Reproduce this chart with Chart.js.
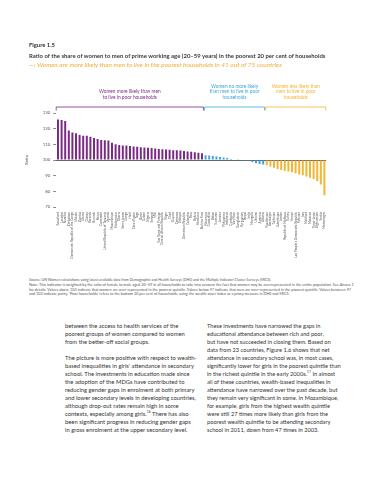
<!DOCTYPE html>
<html><head><meta charset="utf-8">
<script src="https://cdn.jsdelivr.net/npm/chart.js@4.4.1/dist/chart.umd.min.js"></script>
<style>
html,body{margin:0;padding:0;background:#fff;}
#page{position:relative;width:372px;height:480px;overflow:hidden;font-family:Lato,'Open Sans',sans-serif;color:#333;}
canvas{position:absolute;left:0;top:0;}
.t{position:absolute;white-space:nowrap;}
sup{font-size:60%;line-height:0;vertical-align:super;}
</style></head><body><div id="page">
<canvas id="c" width="372" height="268"></canvas>
<div class="t" id="fig" style="left:29px;top:41.7px;line-height:6px;font-weight:700;color:#333">Figure 1.5</div>
<div class="t" id="title" style="left:29px;top:53px;line-height:6px;font-weight:700;color:#3a3a3a">Ratio of the share of women to men of prime working age (20–59 years) in the poorest 20 per cent of households</div>
<div class="t" id="sub" style="left:29px;top:61.7px;line-height:6px;font-style:italic;color:#F0AE35">—› Women are more likely than men to live in the poorest households in 41 out of 75 countries</div>
<div class="t" id="src" style="left:29px;top:277.7px;line-height:4px;color:#555">Source: UN Women calculations using latest available data from Demographic and Health Surveys (DHS) and the Multiple Indicator Cluster Surveys (MICS).</div>
<div class="t" id="note" style="left:29px;top:283.1px;line-height:4.5px;color:#555">Note: This indicator is weighted by the ratio of female to male aged 20–59 in all households to take into account the fact that women may be overrepresented in the entire population. See Annex 1<br>for details. Values above 103 indicate that women are over-represented in the poorest quintile. Values below 97 indicate that men are over-represented in the poorest quintile. Values between 97<br>and 103 indicate parity. 'Poor households' refers to the bottom 20 per cent of households, using the wealth asset index as a proxy measure in DHS and MICS.</div>
<div class="t" id="colL" style="left:65px;top:322px;line-height:8px;color:#333">between the access to health services of the<br>poorest groups of women compared to women<br>from the better-off social groups.<br><br>The picture is more positive with respect to wealth-<br>based inequalities in girls' attendance in secondary<br>school. The investments in education made since<br>the adoption of the MDGs have contributed to<br>reducing gender gaps in enrolment at both primary<br>and lower secondary levels in developing countries,<br>although drop-out rates remain high in some<br>contexts, especially among girls.<sup>16</sup> There has also<br>been significant progress in reducing gender gaps<br>in gross enrolment at the upper secondary level.</div>
<div class="t" id="colR" style="left:207px;top:322px;line-height:8px;color:#333">These investments have narrowed the gaps in<br>educational attendance between rich and poor,<br>but have not succeeded in closing them. Based on<br>data from 23 countries, Figure 1.6 shows that net<br>attendance in secondary school was, in most cases,<br>significantly lower for girls in the poorest quintile than<br>in the richest quintile in the early 2000s.<sup>17</sup> In almost<br>all of these countries, wealth-based inequalities in<br>attendance have narrowed over the past decade, but<br>they remain very significant in some. In Mozambique,<br>for example, girls from the highest wealth quintile<br>were still 27 times more likely than girls from the<br>poorest wealth quintile to be attending secondary<br>school in 2011, down from 47 times in 2003.</div>
</div>
<script>
const countries = [
 'Swaziland','Lesotho','Namibia','Zimbabwe','Democratic Republic of the Congo','Malawi','Zambia','Ghana','Guinea','Rwanda',
 'Burundi','Kenya','Cameroon','United Republic of Tanzania','Uganda','Mozambique','Madagascar','Liberia','Sierra Leone','Congo',
 'Haiti',"Côte d'Ivoire",'Togo','Benin','Gabon','Nigeria','Senegal','Mali','Sao Tome and Principe','Central African Republic',
 'Niger','Chad','Guyana','Comoros','Ethiopia','Dominican Republic','Colombia','Peru','Bolivia','Honduras',
 'Burkina Faso',
 'Nicaragua','Guatemala','Belize','Suriname','Jamaica','Philippines','Indonesia','Cambodia','Viet Nam','Bangladesh',
 'Kyrgyzstan','Nepal','India','Mongolia','Ukraine','Armenia','Albania',
 'Kazakhstan','Azerbaijan','Tajikistan','Uzbekistan','Jordan','Republic of Moldova','Turkey','Yemen',"Lao People's Democratic Republic",'Pakistan',
 'Iraq','Maldives','Morocco','Timor-Leste','Afghanistan','Serbia','Montenegro'
];
const values = [
 125.8,125.5,124.9,118.9,117.6,117.0,115.9,115.5,115.5,114.9,
 114.0,113.4,112.8,112.6,112.4,111.0,110.0,109.5,109.3,109.2,
 109.0,108.6,108.4,108.2,108.0,107.8,107.6,107.3,107.1,106.9,
 106.7,106.5,106.3,106.2,106.0,105.8,105.5,105.2,104.9,104.6,
 104.3,
 103.0,102.8,102.5,102.2,101.9,101.6,101.2,100.6,100.3,100.1,
 99.9,99.8,99.6,98.8,98.0,97.5,97.1,
 96.6,95.8,95.0,94.3,93.6,93.0,92.6,92.2,91.6,90.8,
 90.3,89.5,88.7,87.8,86.4,84.3,77.5
];
const groupSizes = [41, 17, 17];
const groupLabels = [
 ['Women more likely than men','to live in poor households'],
 ['Women no more likely','than men to live in poor','households'],
 ['Women less likely than','men to live in poor','households']
];
const yMin = 70, yMax = 130, yStep = 10, baseValue = 100;
const groupColors = ['#7A2A84','#3AA5DC','#F5B431'];

const barColors = [];
groupSizes.forEach((n,g)=>{for(let i=0;i<n;i++) barColors.push(groupColors[g]);});

const bracketPlugin = {
  id:'brackets',
  afterDraw(chart){
    const {ctx, scales:{x}, chartArea} = chart;
    const half = (x.getPixelForValue(1)-x.getPixelForValue(0))/2;
    let start = 0;
    groupSizes.forEach((n,g)=>{
      const end = start+n-1;
      const x1 = x.getPixelForValue(start)-half+(g>0?0.8:0);
      const x2 = x.getPixelForValue(end)+half-0.4;
      const yb = chartArea.top-6;
      ctx.save();
      ctx.strokeStyle = groupColors[g]; ctx.lineWidth = 0.8;
      ctx.beginPath(); ctx.moveTo(x1,yb+3.5); ctx.lineTo(x1,yb); ctx.lineTo(x2,yb); ctx.lineTo(x2,yb+3.5); ctx.stroke();
      ctx.fillStyle = groupColors[g]; ctx.font = '4.8px Lato'; ctx.textAlign='center'; ctx.textBaseline='middle';
      const lines = groupLabels[g]; const cx = (x1+x2)/2;
      lines.forEach((t,i)=>ctx.fillText(t, cx, yb-9.5-(lines.length-1-i)*5.7));
      ctx.restore();
      start = end+1;
    });
  }
};

new Chart(document.getElementById('c'), {
  type:'bar',
  data:{labels:countries, datasets:[{data:values, base:baseValue, backgroundColor:barColors, barPercentage:0.55, categoryPercentage:1, borderWidth:0}]},
  options:{
    responsive:false, animation:false, devicePixelRatio:1,
    layout:{padding:{left:24, right:45.8, top:113, bottom:4}},
    plugins:{legend:{display:false}, tooltip:{enabled:false}},
    scales:{
      x:{grid:{display:false, drawTicks:false}, border:{display:false},
         ticks:{font:{size:3.1, family:'Lato'}, color:'#555', maxRotation:90, minRotation:90, autoSkip:false, padding:5},
         afterFit(s){s.height=57;}},
      y:{min:yMin, max:yMax, border:{display:false},
         ticks:{stepSize:yStep, font:{size:4.3, family:'Lato'}, color:'#555', padding:3},
         grid:{color:c=>c.tick.value===baseValue?'#666':'rgba(0,0,0,0)', tickColor:'#888', tickLength:3, lineWidth:1},
         title:{display:true, text:'Ratio', font:{size:4.3, family:'Lato'}, color:'#444', padding:0},
         afterFit(s){s.width=32.2;}}
    }
  },
  plugins:[bracketPlugin]
});

function fit(id, target){
  const el = document.getElementById(id);
  el.style.fontSize = '10px';
  const w = el.getBoundingClientRect().width;
  el.style.fontSize = (10*target/w)+'px';
}
fit('fig',26); fit('title',297); fit('sub',253); fit('src',243); fit('note',325); fit('colL',132); fit('colR',134);
</script>
</body></html>
